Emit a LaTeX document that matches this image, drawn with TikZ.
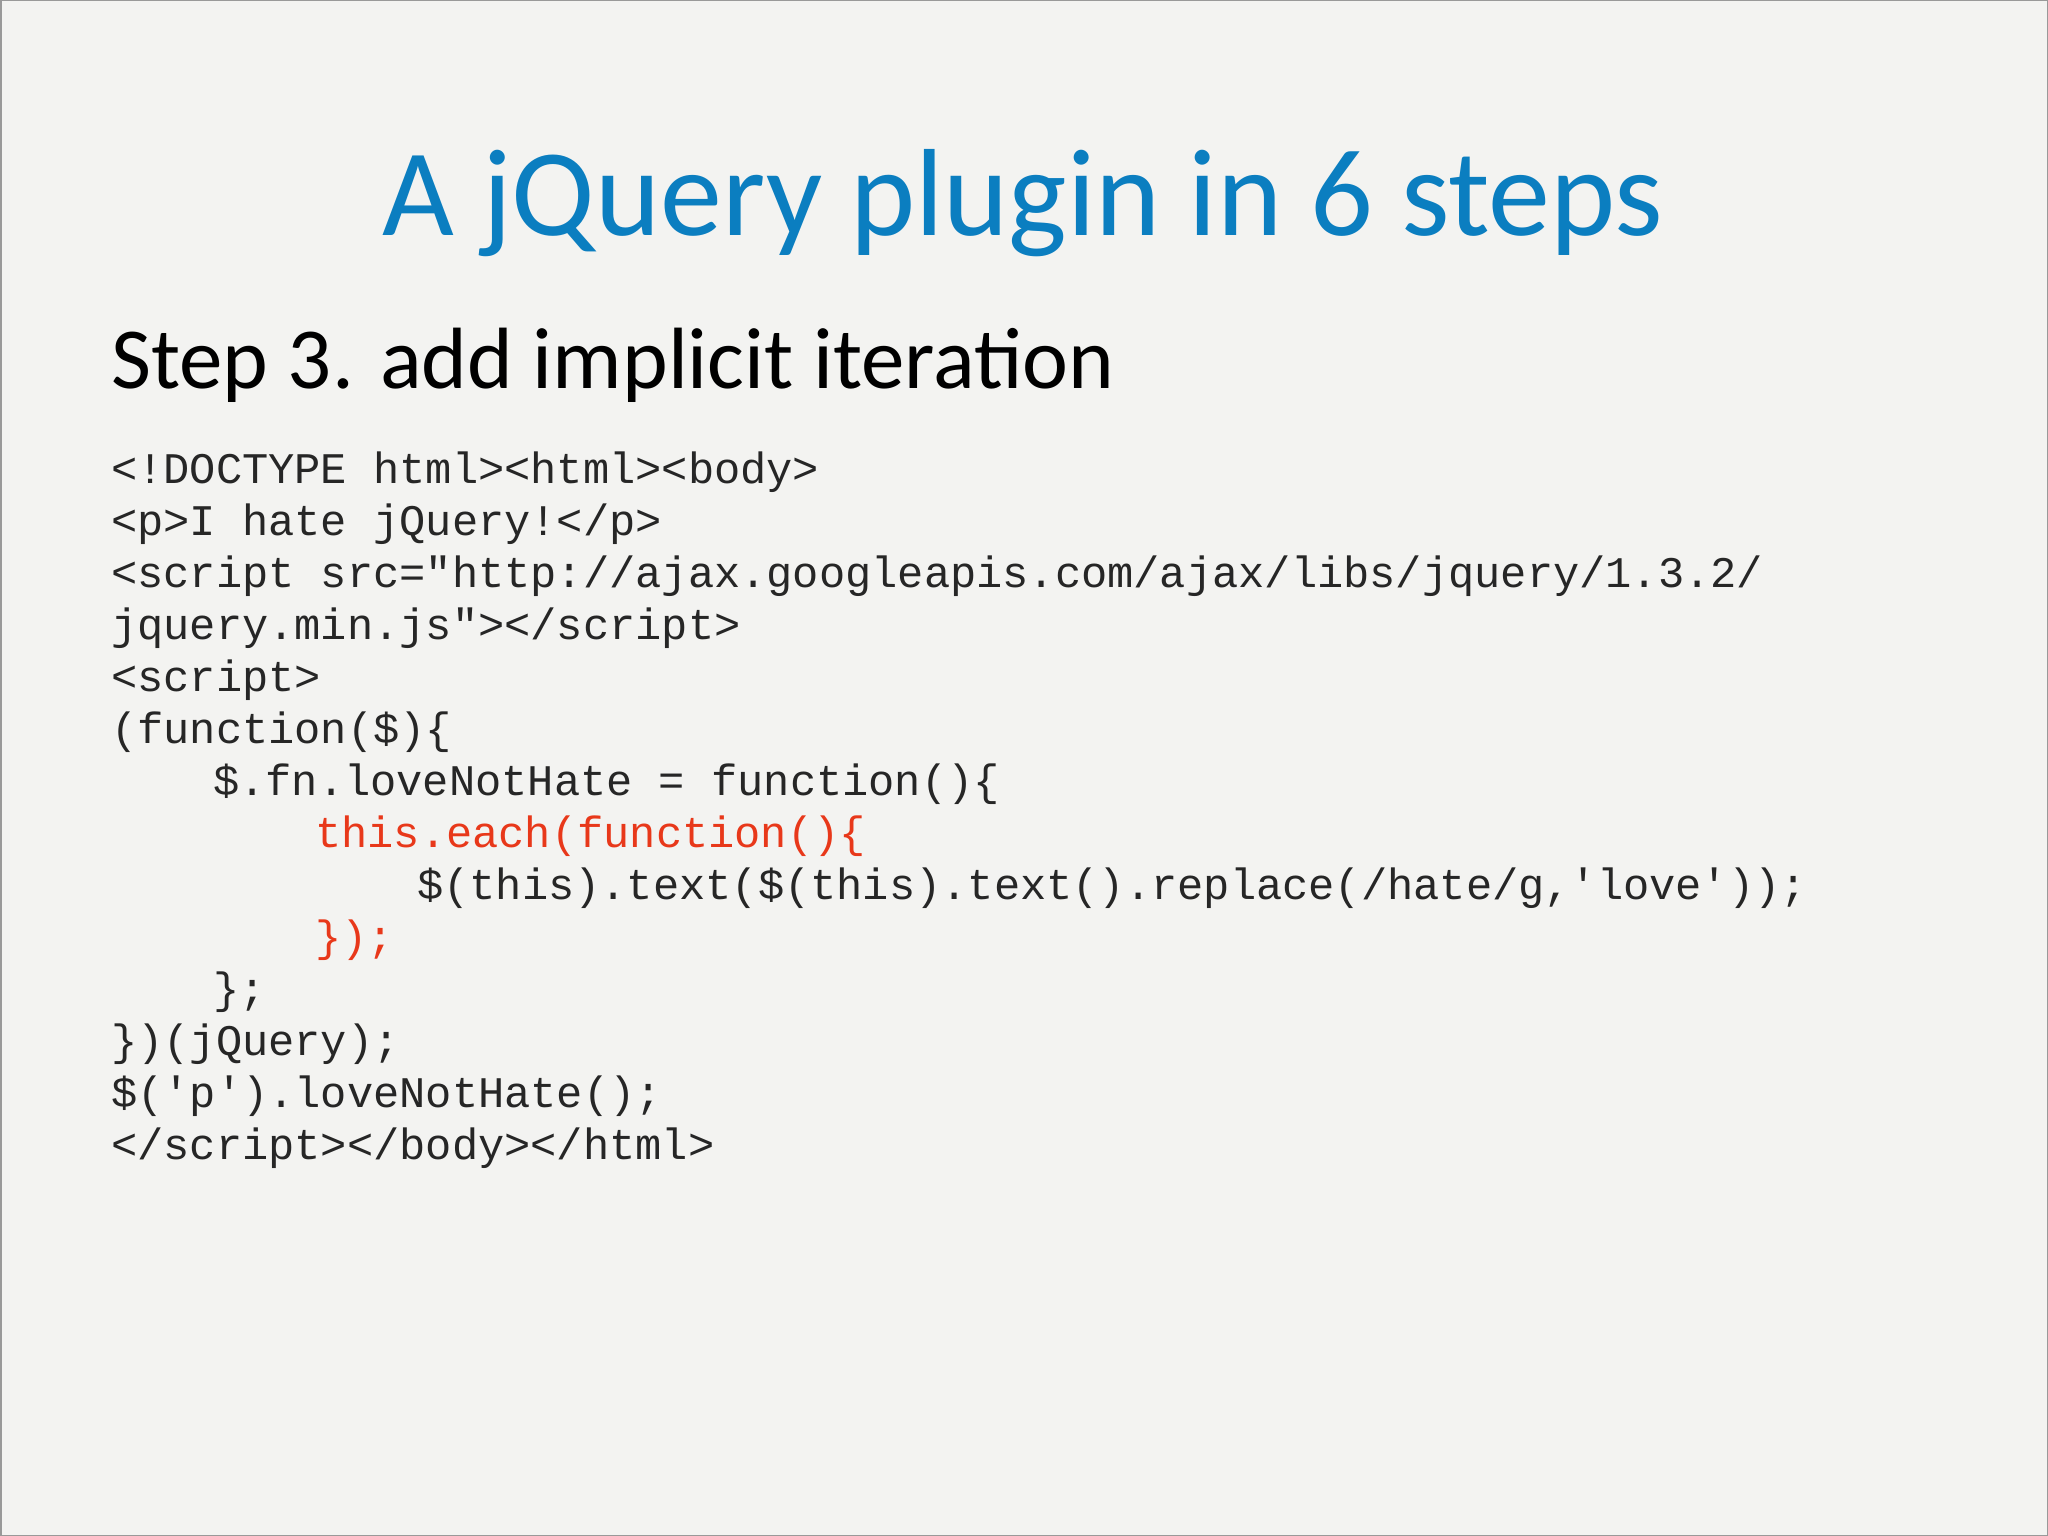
\documentclass[tikz,border=0pt]{standalone}
\usepackage{fontspec}
\newfontfamily\titlefont{Carlito}
\newfontfamily\codefont{Liberation Mono}
\definecolor{bg}{HTML}{F3F3F1}
\definecolor{ttl}{HTML}{0B7EC0}
\definecolor{red}{HTML}{E8381A}
\begin{document}
\begin{tikzpicture}[x=1pt,y=-1pt,
  code/.style={anchor=base west,inner sep=0,font=\codefont\fontsize{43.7}{52}\selectfont,text=black!85}]
\fill[bg] (0,0) rectangle (2048,1536);
\draw[black!40,line width=1.5] (0.75,0.75) rectangle (2047.25,1535.25);
\node[anchor=base,inner sep=0,text=ttl,font=\titlefont\fontsize{124}{130}\selectfont] (title) at (1023,235) {A jQuery plugin in 6 steps};
\node[anchor=base west,inner sep=0,font=\titlefont\fontsize{87}{95}\selectfont] (sub) at (111,388) {Step 3. add implicit iteration};
\def\L{111}\def\I{25.5}
\node[code] (l1) at (\L,483) {<!DOCTYPE html><html><body>};
\node[code] (l2) at (\L,535) {<p>I hate jQuery!</p>};
\node[code] (l3) at (\L,587) {<script src="http://ajax.googleapis.com/ajax/libs/jquery/1.3.2/};
\node[code] (l4) at (\L,639) {jquery.min.js"></script>};
\node[code] (l5) at (\L,691) {<script>};
\node[code] (l6) at (\L,743) {(function(\$)\{};
\node[code] (l7) at (\L+4*\I,795) {\$.fn.loveNotHate = function()\{};
\node[code,text=red] (l8) at (\L+8*\I,847) {this.each(function()\{};
\node[code] (l9) at (\L+12*\I,899) {\$(this).text(\$(this).text().replace(/hate/g,'love'));};
\node[code,text=red] (l10) at (\L+8*\I,951) {\});};
\node[code] (l11) at (\L+4*\I,1003) {\};};
\node[code] (l12) at (\L,1055) {\})(jQuery);};
\node[code] (l13) at (\L,1107) {\$('p').loveNotHate();};
\node[code] (l14) at (\L,1159) {</script></body></html>};
\end{tikzpicture}
\end{document}
